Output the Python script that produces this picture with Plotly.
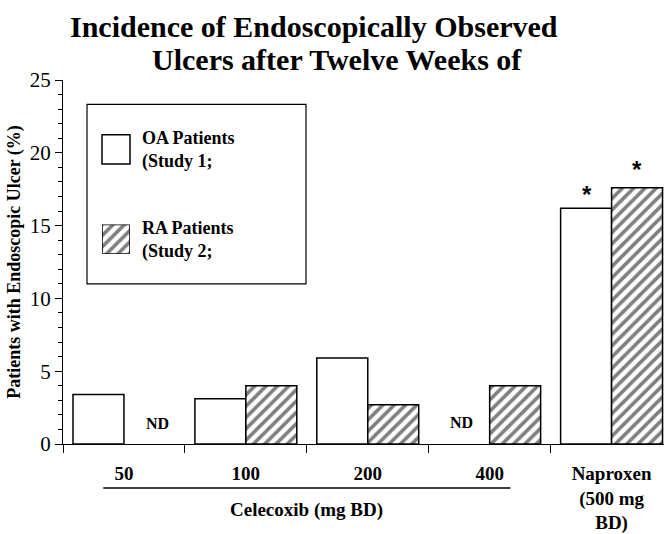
import plotly.graph_objects as go

# ---- data ----
categories = ["50", "100", "200", "400", "Naproxen<br>(500 mg<br>BD)"]
oa_values = [3.4, 3.1, 5.9, None, 16.2]      # OA Patients (Study 1)
ra_values = [None, 4.0, 2.7, 4.0, 17.6]      # RA Patients (Study 2)
significant = [False, False, False, False, True]
series_labels = ["OA Patients<br>(Study 1;", "RA Patients<br>(Study 2;"]
title_lines = ["Incidence of Endoscopically Observed", "Ulcers after Twelve Weeks of"]
y_title = "Patients with Endoscopic Ulcer (%)"
group_label = "Celecoxib (mg BD)"

SERIF = "Liberation Serif, Times New Roman, serif"
HATCH = dict(shape="/", fgcolor="black", bgcolor="white", size=8, solidity=0.45)

fig = go.Figure()
fig.add_trace(go.Bar(
    x=list(range(len(categories))), y=oa_values, name="OA",
    marker=dict(color="white", line=dict(color="black", width=1.5)),
    showlegend=False,
))
fig.add_trace(go.Bar(
    x=list(range(len(categories))), y=ra_values, name="RA",
    marker=dict(color="white", line=dict(color="black", width=1.5), pattern=HATCH),
    showlegend=False,
))

# legend swatch for RA (pattern) on small overlay axes
fig.add_trace(go.Bar(
    x=[0], y=[1], width=[1], xaxis="x2", yaxis="y2", showlegend=False,
    hoverinfo="skip",
    marker=dict(color="white", line=dict(color="black", width=1.5), pattern=HATCH),
))

W, H = 664, 534
L, R, T, B = 63, 0, 80, 81
pw, ph = W - L - R, H - T - B

def px_x(px):
    return (px - L) / pw

def px_y(py):
    return (H - B - py) / ph

def txt(text, x, y, size, xref="paper", yref="paper", xanchor="center", family=SERIF, **kw):
    return dict(text=text, x=x, y=y, xref=xref, yref=yref, xanchor=xanchor, yanchor="middle",
                showarrow=False, font=dict(family=family, size=size, color="black"), **kw)

annotations = []
# title (two separately centred lines)
annotations.append(txt("<b>%s</b>" % title_lines[0], px_x(314), px_y(25.5), 30))
annotations.append(txt("<b>%s</b>" % title_lines[1], px_x(337), px_y(59), 30))

# ND labels and asterisks
for i in range(len(categories)):
    if oa_values[i] is None:
        annotations.append(txt("<b>ND</b>", i, 1.5, 16, xref="x", yref="y", xshift=-28))
    if ra_values[i] is None:
        annotations.append(txt("<b>ND</b>", i, 1.4, 16, xref="x", yref="y", xshift=34))
    if significant[i]:
        annotations.append(txt("<b>*</b>", i, oa_values[i], 24, xref="x", yref="y",
                               family="Liberation Sans, Arial", xshift=-25, yshift=14))
        annotations.append(txt("<b>*</b>", i, ra_values[i], 24, xref="x", yref="y",
                               family="Liberation Sans, Arial", xshift=25, yshift=18))

# group label
annotations.append(txt("<b>%s</b>" % group_label, 1.5, px_y(521), 19, xref="x"))

# legend texts
legend_centres = [152, 244]
for label, yc in zip(series_labels, legend_centres):
    annotations.append(txt("<b>%s</b>" % label, px_x(140), px_y(yc), 18,
                           xanchor="left", align="left"))

shapes = [
    # legend box
    dict(type="rect", xref="paper", yref="paper", x0=px_x(87), x1=px_x(306),
         y0=px_y(289), y1=px_y(105),
         line=dict(color="black", width=1.2), fillcolor="rgba(0,0,0,0)"),
    # OA swatch
    dict(type="rect", xref="paper", yref="paper", x0=px_x(102), x1=px_x(130),
         y0=px_y(166), y1=px_y(136),
         line=dict(color="black", width=1.5), fillcolor="white"),
    # celecoxib group line
    dict(type="line", xref="x", yref="paper", x0=-0.17, x1=3.17, y0=px_y(498), y1=px_y(498),
         line=dict(color="black", width=1.5)),
]

fig.update_layout(
    width=W, height=H,
    margin=dict(l=L, r=R, t=T, b=B),
    paper_bgcolor="white", plot_bgcolor="white",
    barmode="group", bargap=0.164, bargroupgap=0,
    annotations=annotations, shapes=shapes,
    xaxis=dict(range=[-0.5, 4.43],
               tickmode="array", tickvals=list(range(len(categories))),
               ticktext=["<b>%s</b>" % c for c in categories],
               ticks="", showline=True, ticklabelstandoff=12,
               linecolor="black", linewidth=1, showgrid=False, zeroline=False,
               minor=dict(tickmode="array",
                          tickvals=[i - 0.5 for i in range(len(categories) + 1)],
                          ticks="outside", ticklen=8, tickcolor="black", showgrid=False),
               tickfont=dict(family=SERIF, size=19, color="black"),
               fixedrange=True),
    yaxis=dict(range=[0, 25], dtick=5, ticks="outside", ticklen=7, tickcolor="black",
               showline=True, linecolor="black", linewidth=1, showgrid=False, zeroline=False,
               minor=dict(dtick=1, ticks="outside", ticklen=4, tickcolor="black"),
               tickfont=dict(family=SERIF, size=21, color="black"),
               title=dict(text="<b>%s</b>" % y_title, standoff=4,
                          font=dict(family=SERIF, size=18, color="black"))),
    xaxis2=dict(domain=[px_x(102), px_x(130)], range=[-0.5, 0.5], visible=False,
                anchor="y2", fixedrange=True),
    yaxis2=dict(domain=[px_y(258), px_y(228)], range=[0, 1], visible=False,
                anchor="x2", fixedrange=True),
)

fig.write_html("out.html")
